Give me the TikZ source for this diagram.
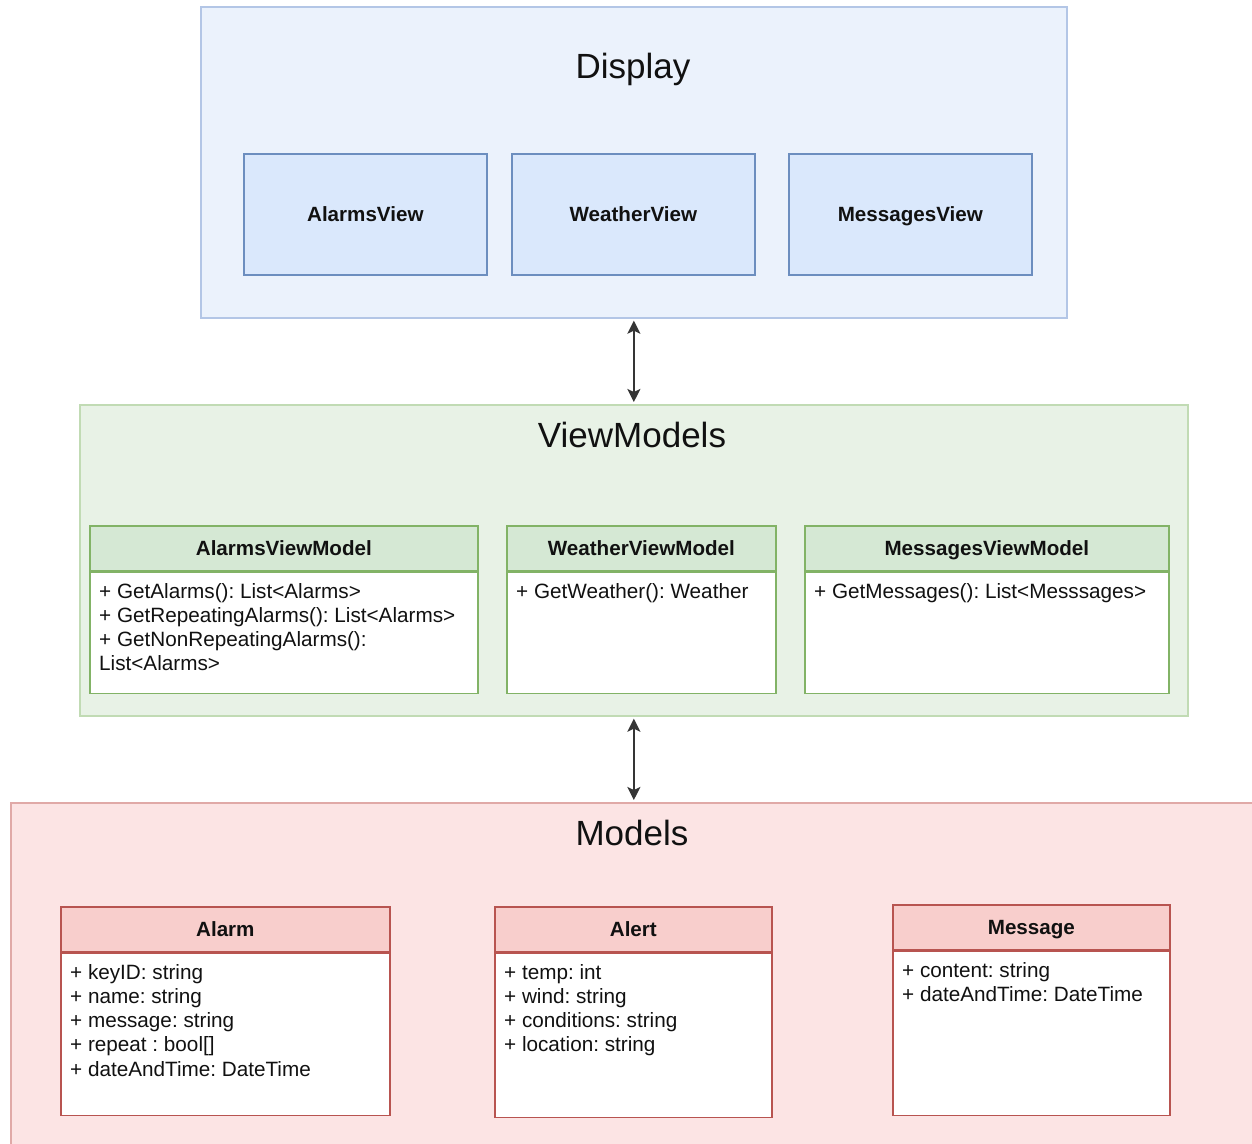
\documentclass[tikz,border=0pt]{standalone}
\usepackage{fontspec}
\setmainfont{Liberation Sans}
\usetikzlibrary{arrows.meta}
\frenchspacing

% layer palettes
\definecolor{dispbg}{HTML}{EBF2FC}
\definecolor{displine}{HTML}{B3C6E6}
\definecolor{viewfill}{HTML}{DAE8FC}
\definecolor{viewline}{HTML}{6C8EBF}
\definecolor{vmbg}{HTML}{E8F2E6}
\definecolor{vmlinelight}{HTML}{C1DBB4}
\definecolor{vmfill}{HTML}{D5E8D4}
\definecolor{vmline}{HTML}{82B366}
\definecolor{mdbg}{HTML}{FCE4E4}
\definecolor{mdlinelight}{HTML}{E0A9A7}
\definecolor{mdfill}{HTML}{F8CECC}
\definecolor{mdline}{HTML}{B85450}
\definecolor{ink}{HTML}{111111}

\begin{document}
\begin{tikzpicture}[x=1pt,y=-1pt,
  layer/.style={rectangle, anchor=north west, inner sep=0, line width=1.7pt},
  layertitle/.style={anchor=base, inner sep=0, text=ink, font=\fontsize{35}{40}\selectfont},
  viewbox/.style={rectangle, anchor=north west, inner sep=0, line width=1.7pt,
    draw=viewline, fill=viewfill, minimum width=243, minimum height=121,
    text height=14.8pt, text depth=0pt,
    text=ink, font=\bfseries\fontsize{20.6}{24}\selectfont},
  classhead/.style={rectangle, anchor=north west, inner sep=0, line width=1.7pt,
    minimum height=45, text height=14.8pt, text depth=0pt,
    text=ink, font=\bfseries\fontsize{20.6}{24}\selectfont},
  classbody/.style={rectangle, anchor=north west, inner sep=0, line width=1.7pt, fill=white},
  members/.style={anchor=north west, inner sep=0, align=left, text=ink,
    font=\fontsize{20.7}{24.2}\selectfont},
  link/.style={{Stealth[length=13pt,width=13pt,inset=3pt]}-{Stealth[length=13pt,width=13pt,inset=3pt]},
    line width=2pt, draw=ink!85, shorten <=2pt, shorten >=2pt}
]
\useasboundingbox (0,0) rectangle (1252,1143);
\clip (0,0) rectangle (1252,1143);
\fill[white] (0,0) rectangle (1252,1143);

% ---------- Display layer ----------
\node[layer, draw=displine, fill=dispbg, minimum width=866, minimum height=311] (display) at (200,6) {};
\node[layertitle] (displaytitle) at (633,78) {Display};
\node[viewbox] (alarmsview) at (243,153) {AlarmsView};
\node[viewbox] (weatherview) at (511,153) {WeatherView};
\node[viewbox] (messagesview) at (788,153) {MessagesView};

% ---------- ViewModels layer ----------
\node[layer, draw=vmlinelight, fill=vmbg, minimum width=1108, minimum height=311] (vm) at (79,404) {};
\node[layertitle] (vmtitle) at (632,447) {ViewModels};

\node[classhead, draw=vmline, fill=vmfill, minimum width=388] (avmh) at (89,525) {AlarmsViewModel};
\node[classbody, draw=vmline, minimum width=388, minimum height=121] (avmb) at (avmh.south west) {};
\node[members] (avmm) at (99,583) {+ GetAlarms(): List<Alarms>\\+ GetRepeatingAlarms(): List<Alarms>\\+ GetNonRepeatingAlarms():\\List<Alarms>};

\node[classhead, draw=vmline, fill=vmfill, minimum width=269] (wvmh) at (506,525) {WeatherViewModel};
\node[classbody, draw=vmline, minimum width=269, minimum height=121] (wvmb) at (wvmh.south west) {};
\node[members] (wvmm) at (516,583) {+ GetWeather(): Weather};

\node[classhead, draw=vmline, fill=vmfill, minimum width=364] (mvmh) at (804,525) {MessagesViewModel};
\node[classbody, draw=vmline, minimum width=364, minimum height=121] (mvmb) at (mvmh.south west) {};
\node[members] (mvmm) at (814,583) {+ GetMessages(): List<Messsages>};

% ---------- Models layer ----------
\node[layer, draw=mdlinelight, fill=mdbg, minimum width=1260, minimum height=360] (models) at (10,802) {};
\node[layertitle] (mdtitle) at (632,845) {Models};

\node[classhead, draw=mdline, fill=mdfill, minimum width=329] (alarmh) at (60,906) {Alarm};
\node[classbody, draw=mdline, minimum width=329, minimum height=162] (alarmb) at (alarmh.south west) {};
\node[members] (alarmm) at (70,964) {+ keyID: string\\+ name: string\\+ message: string\\+ repeat : bool[]\\+ dateAndTime: DateTime};

\node[classhead, draw=mdline, fill=mdfill, minimum width=277] (alerth) at (494,906) {Alert};
\node[classbody, draw=mdline, minimum width=277, minimum height=164] (alertb) at (alerth.south west) {};
\node[members] (alertm) at (504,964) {+ temp: int\\+ wind: string\\+ conditions: string\\+ location: string};

\node[classhead, draw=mdline, fill=mdfill, minimum width=277] (msgh) at (892,904) {Message};
\node[classbody, draw=mdline, minimum width=277, minimum height=164] (msgb) at (msgh.south west) {};
\node[members] (msgm) at (902,962) {+ content: string\\+ dateAndTime: DateTime};

% ---------- connectors ----------
\draw[link] (display.south) -- (vm.north);
\draw[link] (vm.south) -- (vm.south |- models.north);
\end{tikzpicture}
\end{document}
